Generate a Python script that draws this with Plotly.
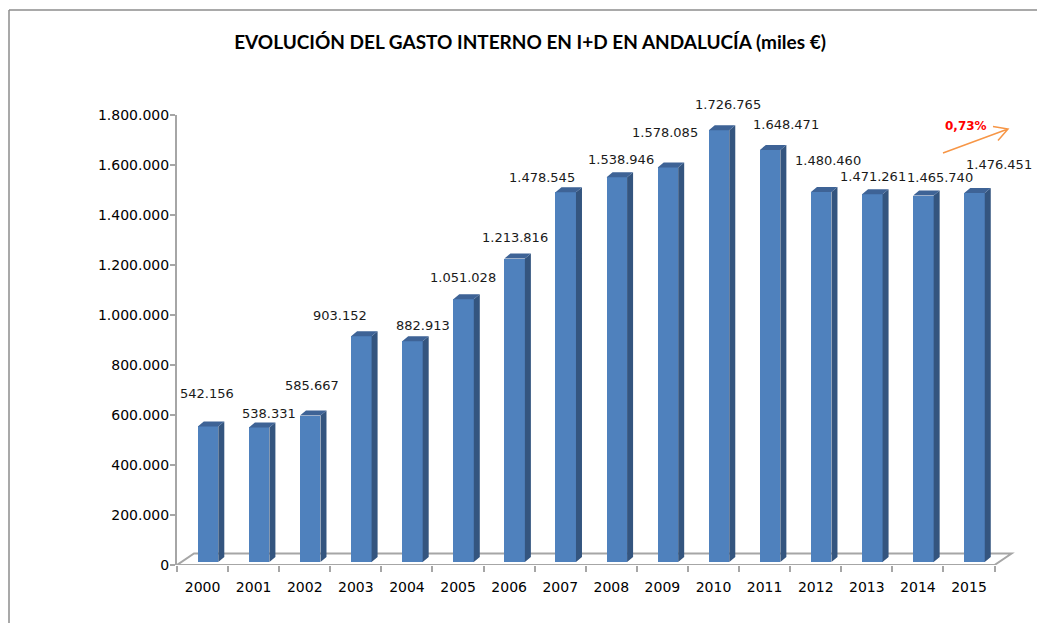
import plotly.graph_objects as go

# ---- data ----
YEARS = ["2000", "2001", "2002", "2003", "2004", "2005", "2006", "2007",
         "2008", "2009", "2010", "2011", "2012", "2013", "2014", "2015"]
GASTO = [542156, 538331, 585667, 903152, 882913, 1051028, 1213816, 1478545,
         1538946, 1578085, 1726765, 1648471, 1480460, 1471261, 1465740, 1476451]
Y_TICKS = [0, 200000, 400000, 600000, 800000, 1000000, 1200000, 1400000, 1600000, 1800000]
TITLE = "EVOLUCIÓN DEL GASTO INTERNO EN I+D EN ANDALUCÍA (miles €)"
VARIATION = "0,73%"

# ---- style / geometry ----
W, H = 1045, 623
OFF = 8                     # page body margin in the browser
PLOT_L, PLOT_T = 177 - OFF, 115 - OFF
PLOT_W, PLOT_H = 838, 450
ML, MT = PLOT_L, PLOT_T
MR = W - ML - PLOT_W
MB = H - MT - PLOT_H
XMIN, XMAX = -0.5, 15.9
YMAX = 1800000
px_x = PLOT_W / (XMAX - XMIN)
px_y = PLOT_H / YMAX

def ux(p):
    return p / px_x

def uy(p):
    return p / px_y

BASE = uy(3)
BAR_OFF = ux(5.5)
BAR_W = ux(20.5)
DX, DY = ux(6), uy(5)
FDX, FDY = ux(17), uy(11.5)

FRONT = "#4F81BD"
SIDE = "#34557F"
TOP = "#3E6396"
GRAY = "#A6A6A6"

# label offsets (pixels) relative to bar front-top centre
LBL_DX = [4, 15, 7, -16, 16, 5, 6, -18, 10, 3, 14.5, 21.5, 12, 6, 22.5, 30]
LBL_DY = [32.5, 14, 30, 21, 16, 22, 21.5, 15, 18, 35, 26, 25, 31, 17.5, 17.6, 28]

xs = list(range(len(YEARS)))

fig = go.Figure()

fig.add_trace(go.Bar(
    x=[i + BAR_OFF for i in xs], y=GASTO, base=[BASE] * len(GASTO),
    width=BAR_W, marker=dict(color=FRONT, line=dict(width=0)),
    hoverinfo="skip", showlegend=False))

sx, sy, tx, ty = [], [], [], []
for i, v in zip(xs, GASTO):
    xl = i + BAR_OFF - BAR_W / 2
    xr = i + BAR_OFF + BAR_W / 2
    top = BASE + v
    sx += [xr, xr + DX, xr + DX, xr, xr, None]
    sy += [BASE, BASE + DY, top + DY, top, BASE, None]
    tx += [xl, xl + DX, xr + DX, xr, xl, None]
    ty += [top, top + DY, top + DY, top, top, None]

fig.add_trace(go.Scatter(x=sx, y=sy, mode="lines", fill="toself", fillcolor=SIDE,
                         line=dict(width=0, color=SIDE), hoverinfo="skip", showlegend=False))
fig.add_trace(go.Scatter(x=tx, y=ty, mode="lines", fill="toself", fillcolor=TOP,
                         line=dict(width=0, color=TOP), hoverinfo="skip", showlegend=False))

x0f, x1f = XMIN, 15.5
fig.add_shape(type="path", xref="x", yref="y", layer="below",
              path=f"M {x0f},0 L {x1f},0 L {x1f + FDX},{FDY} L {x0f + FDX},{FDY} Z",
              line=dict(color=GRAY, width=2), fillcolor="white")

for i, v, ddx, ddy in zip(xs, GASTO, LBL_DX, LBL_DY):
    fig.add_annotation(x=i, y=BASE + v, xref="x", yref="y",
                       text=f"{v:,}".replace(",", "."), showarrow=False,
                       xanchor="center", yanchor="middle",
                       xshift=ddx, yshift=ddy,
                       font=dict(family="DejaVu Sans", size=13, color="#1a1a1a"))

# decorative items given in screen pixels of the reference
def pxp(x):
    return (x - OFF - ML) / PLOT_W

def pyp(y):
    return (MT + PLOT_H - (y - OFF)) / PLOT_H

fig.add_shape(type="line", xref="paper", yref="paper",
              x0=pxp(9), y0=pyp(10), x1=pxp(W + 20), y1=pyp(10),
              line=dict(color="#8C8C8C", width=1.5))
fig.add_shape(type="line", xref="paper", yref="paper",
              x0=pxp(9), y0=pyp(10), x1=pxp(9), y1=pyp(H + 20),
              line=dict(color="#8C8C8C", width=1.5))

ORANGE = "#F79646"
fig.add_shape(type="path", xref="paper", yref="paper",
              path=(f"M {pxp(943)},{pyp(153)} L {pxp(1008)},{pyp(129)} "
                    f"M {pxp(993)},{pyp(126.5)} L {pxp(1008)},{pyp(129)} L {pxp(998)},{pyp(140.5)}"),
              line=dict(color=ORANGE, width=1.5))
fig.add_annotation(x=pxp(965.5), y=pyp(126), xref="paper", yref="paper",
                   xanchor="center", yanchor="middle",
                   text=f"<b>{VARIATION}</b>", showarrow=False,
                   font=dict(family="DejaVu Sans", size=12, color="#FF0000"))

fig.update_layout(
    width=W, height=H,
    margin=dict(l=ML, r=MR, t=MT, b=MB),
    paper_bgcolor="white", plot_bgcolor="white",
    separators=",.",
    title=dict(text=f"<b>{TITLE}</b>", x=(530 - OFF) / W, xanchor="center",
               y=1 - (42 - OFF) / H, yanchor="middle", yref="container",
               font=dict(family="Lato", size=19, color="#000000")),
    bargap=0,
    xaxis=dict(range=[XMIN, XMAX], tickmode="array", tickvals=xs, ticktext=YEARS,
               ticks="", showgrid=False, zeroline=False, showline=False,
               ticklabelstandoff=12,
               tickfont=dict(family="DejaVu Sans", size=14, color="#000000"),
               minor=dict(tickmode="array", tickvals=[i - 0.5 for i in range(len(YEARS) + 1)],
                          ticks="outside", ticklen=6, tickcolor=GRAY, tickwidth=1.5,
                          showgrid=False)),
    yaxis=dict(range=[0, YMAX], tickmode="array", tickvals=Y_TICKS, tickformat=",d",
               ticks="outside", ticklen=5, tickcolor=GRAY, tickwidth=1.5,
               showline=True, linecolor=GRAY, linewidth=2,
               showgrid=False, zeroline=False, ticklabelstandoff=-2,
               tickfont=dict(family="DejaVu Sans", size=14, color="#000000")),
)

fig.write_html("out.html")
